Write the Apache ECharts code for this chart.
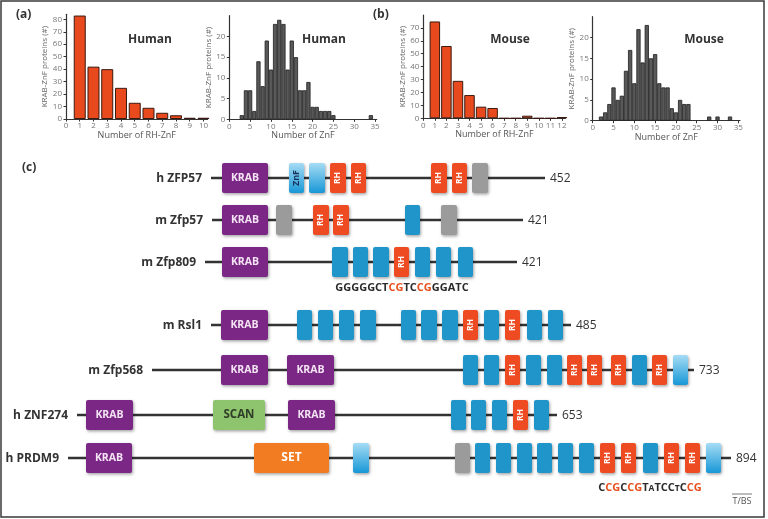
<!DOCTYPE html>
<html><head><meta charset="utf-8">
<script src="https://cdn.jsdelivr.net/npm/echarts@6/dist/echarts.min.js"></script>
<style>html,body{margin:0;padding:0;background:#fff}#c{width:768px;height:519px}</style>
</head><body><div id="c"></div>
<script>
// ---------- Panel (a)/(b) histogram data ----------
const humanRHBins = [1,2,3,4,5,6,7,8,9,10];
const humanRHCounts = [83,42,40,25,13,9,5,3,1,1];
const humanZnFBins = [3,4,5,6,7,8,9,10,11,12,13,14,15,16,17,18,19,20,21,22,23,24,25,34];
const humanZnFCounts = [1,7,7,2,14,8,19,12,23,24,23,12,19,15,7,7,9,3,3,2,2,2,1,1];
const mouseRHBins = [1,2,3,4,5,6,7,8,9,10,11,12];
const mouseRHCounts = [75,56,29,18,9,8,0,0,2,0,0,1];
const mouseZnFBins = [2,3,4,5,6,7,8,9,10,11,12,13,14,15,16,17,18,19,20,21,22,23,28,30,33];
const mouseZnFCounts = [1,2,4,8,5,6,12,17,9,22,14,23,15,16,9,8,8,3,2,5,4,4,1,1,1];

// ---------- Panel (c) domain architecture data (diagram units) ----------
const proteins = ['h ZFP57','m Zfp57','m Zfp809','m Rsl1','m Zfp568','h ZNF274','h PRDM9'];
const proteinLength = [452,421,421,485,733,653,894];
const rowTrack = [178,220,262,325,370,415,458];
const backboneStart = [211,212,205,211,152,77,68];
const backboneEnd = [545,523,517,571,694,557,731];
const domainsZFP57 = [[222,268,'KRAB'],[289,304,'ZnFlabel'],[309,325,'ZnFlight'],[330,346,'RH'],[351,366,'RH'],[431,447,'RH'],[452,467,'RH'],[472,488,'other']];
const domainsZfp57 = [[222,268,'KRAB'],[276,292,'other'],[313,329,'RH'],[333,349,'RH'],[405,420,'ZnF'],[441,457,'other']];
const domainsZfp809 = [[222,268,'KRAB'],[332,348,'ZnF'],[353,368,'ZnF'],[373,389,'ZnF'],[394,409,'RH'],[415,430,'ZnF'],[436,451,'ZnF'],[458,473,'ZnF']];
const domainsRsl1 = [[221,268,'KRAB'],[297,312,'ZnF'],[318,333,'ZnF'],[339,354,'ZnF'],[360,376,'ZnF'],[401,416,'ZnF'],[421,437,'ZnF'],[442,458,'ZnF'],[463,478,'RH'],[484,499,'ZnF'],[505,520,'RH'],[527,542,'ZnF'],[548,563,'ZnF']];
const domainsZfp568 = [[221,268,'KRAB'],[287,334,'KRAB'],[463,478,'ZnF'],[484,499,'ZnF'],[505,520,'RH'],[526,541,'ZnF'],[547,562,'ZnF'],[567,582,'RH'],[587,602,'RH'],[611,626,'RH'],[632,647,'ZnF'],[652,667,'RH'],[673,688,'ZnFlight']];
const domainsZNF274 = [[86,133,'KRAB'],[213,265,'SCAN'],[288,335,'KRAB'],[451,466,'ZnF'],[471,486,'ZnF'],[492,507,'ZnF'],[513,528,'RH'],[534,549,'ZnF']];
const domainsPRDM9 = [[86,132,'KRAB'],[254,329,'SET'],[353,369,'ZnFlight'],[455,470,'other'],[475,490,'ZnF'],[496,511,'ZnF'],[517,532,'ZnF'],[537,552,'ZnF'],[558,573,'ZnF'],[579,594,'ZnF'],[600,615,'RH'],[621,636,'RH'],[643,658,'ZnF'],[664,679,'RH'],[685,700,'RH'],[706,721,'ZnFlight']];
const allDomains = [domainsZFP57,domainsZfp57,domainsZfp809,domainsRsl1,domainsZfp568,domainsZNF274,domainsPRDM9];
const seqNotes = [
  {row:2, x:402, dy:26, text:'{k|GGGGGCT}{r|CG}{k|TC}{r|CG}{k|GGATC}'},
  {row:6, x:650, dy:30, text:'{k|C}{r|CG}{k|C}{r|CG}{k|T}{s|A}{k|TCC}{s|T}{k|C}{r|CG}'}
];

// ---------- styles ----------
const FONT = '"Open Sans", "DejaVu Sans", sans-serif';
const typeList = ['KRAB','SCAN','SET','ZnF','ZnFlight','ZnFlabel','RH','other'];
const lightGrad = () => new echarts.graphic.LinearGradient(0,0,0,1,[{offset:0,color:'#a6dcf5'},{offset:1,color:'#1797d6'}]);
const typeStyle = {
  KRAB:{fill:'#7b2785', text:'KRAB', color:'#f3e3f3', size:10.5, rot:0},
  SCAN:{fill:'#8ec46d', text:'SCAN', color:'#2f3d28', size:11.5, rot:0},
  SET:{fill:'#f27c21', text:'SET', color:'#ffffff', size:12, rot:0},
  ZnF:{fill:'#1f95c9'},
  ZnFlight:{fill:'grad'},
  ZnFlabel:{fill:'grad', text:'ZnF', color:'#17325a', size:9, rot:Math.PI/2},
  RH:{fill:'#ee4b22', text:'RH', color:'#ffffff', size:8.5, rot:Math.PI/2},
  other:{fill:'#9b9b9b'}
};

const domainData = [];
allDomains.forEach((list,row)=>list.forEach(d=>domainData.push([row,d[0],d[1],typeList.indexOf(d[2])])));
const backboneData = proteins.map((p,i)=>[i, backboneStart[i], backboneEnd[i]]);

function histAxes(gi, xmax, xint, ymax, yint, xname, ynameGap){
  return {
    x:{type:'value', gridIndex:gi, min:0, max:xmax, interval:xint,
      name:xname, nameLocation:'middle', nameGap:12,
      nameTextStyle:{fontSize:9, color:'#555', fontFamily:FONT},
      axisLine:{lineStyle:{color:'#333', width:1.2}},
      axisTick:{show:true, length:2.5, lineStyle:{color:'#333'}},
      axisLabel:{fontSize:8, color:'#777', margin:3, fontFamily:FONT, showMaxLabel:false,
        formatter:v=> (Math.abs(v/xint-Math.round(v/xint))<1e-6 ? String(Math.round(v)) : '')},
      splitLine:{show:false}},
    y:{type:'value', gridIndex:gi, min:0, max:ymax, interval:yint,
      name:'KRAB-ZnF proteins (#)', nameLocation:'middle', nameRotate:90, nameGap:ynameGap,
      nameTextStyle:{fontSize:8, color:'#666', fontFamily:FONT},
      axisLine:{show:true, lineStyle:{color:'#333', width:1.2}},
      axisTick:{show:true, length:2.5, lineStyle:{color:'#333'}},
      axisLabel:{fontSize:8, color:'#777', margin:4, fontFamily:FONT, showMaxLabel:false,
        formatter:v=> (Math.abs(v/yint-Math.round(v/yint))<1e-6 ? String(Math.round(v)) : '')},
      splitLine:{show:false}}
  };
}
const a0 = histAxes(0, 10.3, 1, 84, 10, 'Number of RH-ZnF', 15);
const a1 = histAxes(1, 35.4, 5, 25, 5, 'Number of ZnF', 9);
const a2 = histAxes(2, 12.3, 1, 80, 10, 'Number of RH-ZnF', 14);
const a3 = histAxes(3, 35.4, 5, 25, 5, 'Number of ZnF', 12);

const pair = (xs,ys)=>xs.map((x,i)=>[x,ys[i]]);
const rhBar = {color:'#e8491d', borderColor:'#3b1a10', borderWidth:1};
const znBar = {color:'#595959', borderColor:'#1e1e1e', borderWidth:0.8};

const chart = echarts.init(document.getElementById('c'));
chart.setOption({
  animation:false,
  backgroundColor:'#ffffff',
  textStyle:{fontFamily:FONT},
  grid:[
    {left:66, top:14.3, width:141.6, height:104.7},
    {left:229.3, top:15.7, width:147.4, height:103.6},
    {left:423.3, top:15, width:142.1, height:103.3},
    {left:592.7, top:16.7, width:147.3, height:104},
    {left:0, top:0, width:768, height:519}
  ],
  xAxis:[a0.x,a1.x,a2.x,a3.x,{type:'value', gridIndex:4, min:0, max:768, show:false}],
  yAxis:[a0.y,a1.y,a2.y,a3.y,{type:'value', gridIndex:4, min:0, max:519, inverse:true, show:false}],
  series:[
    {type:'bar', xAxisIndex:0, yAxisIndex:0, barWidth:12, itemStyle:rhBar, data:pair(humanRHBins,humanRHCounts)},
    {type:'bar', xAxisIndex:1, yAxisIndex:1, barWidth:4.2, itemStyle:znBar, data:pair(humanZnFBins,humanZnFCounts)},
    {type:'bar', xAxisIndex:2, yAxisIndex:2, barWidth:10.5, itemStyle:rhBar, data:pair(mouseRHBins,mouseRHCounts)},
    {type:'bar', xAxisIndex:3, yAxisIndex:3, barWidth:4.2, itemStyle:znBar, data:pair(mouseZnFBins,mouseZnFCounts)},
    {type:'custom', xAxisIndex:4, yAxisIndex:4, clip:false, z:2, data:backboneData,
      renderItem:(params, api)=>{
        const r = api.value(0);
        const a = api.coord([api.value(1), rowTrack[r]]);
        const b = api.coord([api.value(2), rowTrack[r]]);
        return {type:'group', children:[
          {type:'line', shape:{x1:a[0],y1:a[1],x2:b[0],y2:b[1]}, style:{stroke:'#333', lineWidth:2.4}},
          {type:'text', x:a[0]-9, y:a[1]+1, style:{text:proteins[r], align:'right', verticalAlign:'middle', fontSize:12, fontWeight:'bold', fontFamily:FONT, fill:'#333'}},
          {type:'text', x:b[0]+5, y:b[1]+1, style:{text:String(proteinLength[r]), align:'left', verticalAlign:'middle', fontSize:12, fontFamily:FONT, fill:'#333'}}
        ]};
      }},
    {type:'custom', xAxisIndex:4, yAxisIndex:4, clip:false, z:3, data:domainData,
      renderItem:(params, api)=>{
        const r = api.value(0);
        const t = typeStyle[typeList[api.value(3)]];
        const a = api.coord([api.value(1), rowTrack[r]]);
        const b = api.coord([api.value(2), rowTrack[r]]);
        const h = 30, w = b[0]-a[0];
        const children = [{type:'rect', shape:{x:a[0], y:a[1]-h/2, width:w, height:h, r:2},
          style:{fill: t.fill==='grad' ? lightGrad() : t.fill, shadowBlur:3, shadowOffsetX:1, shadowOffsetY:1.5, shadowColor:'rgba(0,0,0,0.35)'}}];
        if (t.text) children.push({type:'text', x:a[0]+w/2, y:a[1], rotation:t.rot, originX:0, originY:0,
          style:{text:t.text, align:'center', verticalAlign:'middle', fontSize:t.size, fontWeight:'bold', fontFamily:FONT, fill:t.color}});
        return {type:'group', children};
      }},
    {type:'custom', xAxisIndex:4, yAxisIndex:4, clip:false, z:3, data:seqNotes.map((s,i)=>[s.row, s.x, i]),
      renderItem:(params, api)=>{
        const s = seqNotes[api.value(2)];
        const p = api.coord([s.x, rowTrack[s.row]]);
        return {type:'text', x:p[0], y:p[1]+s.dy, style:{text:s.text, align:'center', verticalAlign:'middle',
          rich:{k:{fontSize:11, fontWeight:'bold', fill:'#2b2b2b', fontFamily:FONT, verticalAlign:'bottom'},
                r:{fontSize:11, fontWeight:'bold', fill:'#e8501e', fontFamily:FONT, verticalAlign:'bottom'},
                s:{fontSize:8.5, fontWeight:'bold', fill:'#2b2b2b', fontFamily:FONT, verticalAlign:'bottom'}}}};
      }}
  ],
  graphic:[
    {type:'rect', shape:{x:1, y:1, width:763, height:516}, style:{fill:'none', stroke:'#3a3a3a', lineWidth:1.5}, silent:true},
    {type:'text', x:16, y:15, style:{text:'(a)', fontSize:12, fontWeight:'bold', fill:'#333', fontFamily:FONT, verticalAlign:'middle'}},
    {type:'text', x:373, y:15, style:{text:'(b)', fontSize:12, fontWeight:'bold', fill:'#333', fontFamily:FONT, verticalAlign:'middle'}},
    {type:'text', x:22, y:168, style:{text:'(c)', fontSize:12, fontWeight:'bold', fill:'#333', fontFamily:FONT, verticalAlign:'middle'}},
    {type:'text', x:150, y:40, style:{text:'Human', fontSize:12, fontWeight:'bold', fill:'#333', fontFamily:FONT, align:'center', verticalAlign:'middle'}},
    {type:'text', x:324, y:40, style:{text:'Human', fontSize:12, fontWeight:'bold', fill:'#333', fontFamily:FONT, align:'center', verticalAlign:'middle'}},
    {type:'text', x:510, y:40, style:{text:'Mouse', fontSize:12, fontWeight:'bold', fill:'#333', fontFamily:FONT, align:'center', verticalAlign:'middle'}},
    {type:'text', x:704, y:40, style:{text:'Mouse', fontSize:12, fontWeight:'bold', fill:'#333', fontFamily:FONT, align:'center', verticalAlign:'middle'}},
    {type:'text', x:742, y:501, style:{text:'T/BS', fontSize:9, fill:'#555', fontFamily:FONT, align:'center', verticalAlign:'middle'}},
    {type:'line', shape:{x1:732, y1:494, x2:752, y2:494}, style:{stroke:'#555', lineWidth:0.8}}
  ]
});
</script>
</body></html>
